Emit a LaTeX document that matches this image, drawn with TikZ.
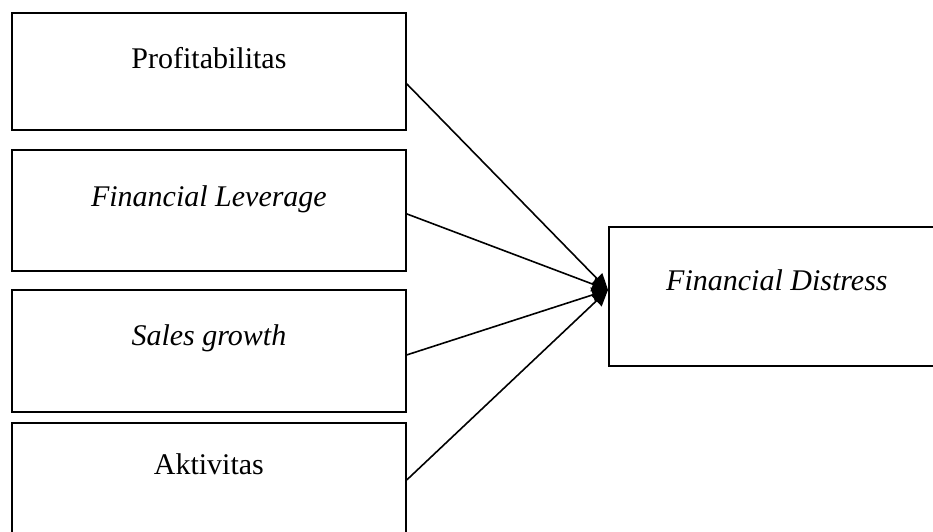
\documentclass[tikz,border=0pt]{standalone}
\usepackage{fontspec}
\setmainfont{Liberation Serif}
\usetikzlibrary{positioning, arrows.meta}

\begin{document}
\begin{tikzpicture}[x=1pt, y=-1pt, font=\fontsize{30}{36}\selectfont,
		kotak/.style={draw, line width=1.8pt, inner sep=0pt, minimum width=394pt, anchor=north west},
		panah/.style={line width=1.6pt, -{Triangle[length=16pt, width=15pt]}}]
	\useasboundingbox (0,0) rectangle (933,531);
	% variabel independen
	\foreach \n/\y/\h/\d/\t in {1/12/56/61/{Profitabilitas}, 2/149/57/64/{\textit{Financial Leverage}},
	                            3/289/56/66/{\textit{Sales growth}}, 4/422/52/68/{Aktivitas}} {
		\node[kotak, text height=\h pt, text depth=\d pt] (k\n) at (11,\y) {\t};
	}
	% variabel dependen
	\node[kotak, minimum width=336pt, text height=64pt, text depth=75pt] (distress) at (608,226)
		{\textit{Financial Distress}};
	\coordinate (tuju) at ([yshift=6.5pt]distress.west);
	\foreach \n/\s in {1/-12.5, 2/-3.5, 3/-4, 4/3} {
		\draw[panah] ([yshift=\s pt]k\n.east) -- (tuju);
	}
\end{tikzpicture}
\end{document}
